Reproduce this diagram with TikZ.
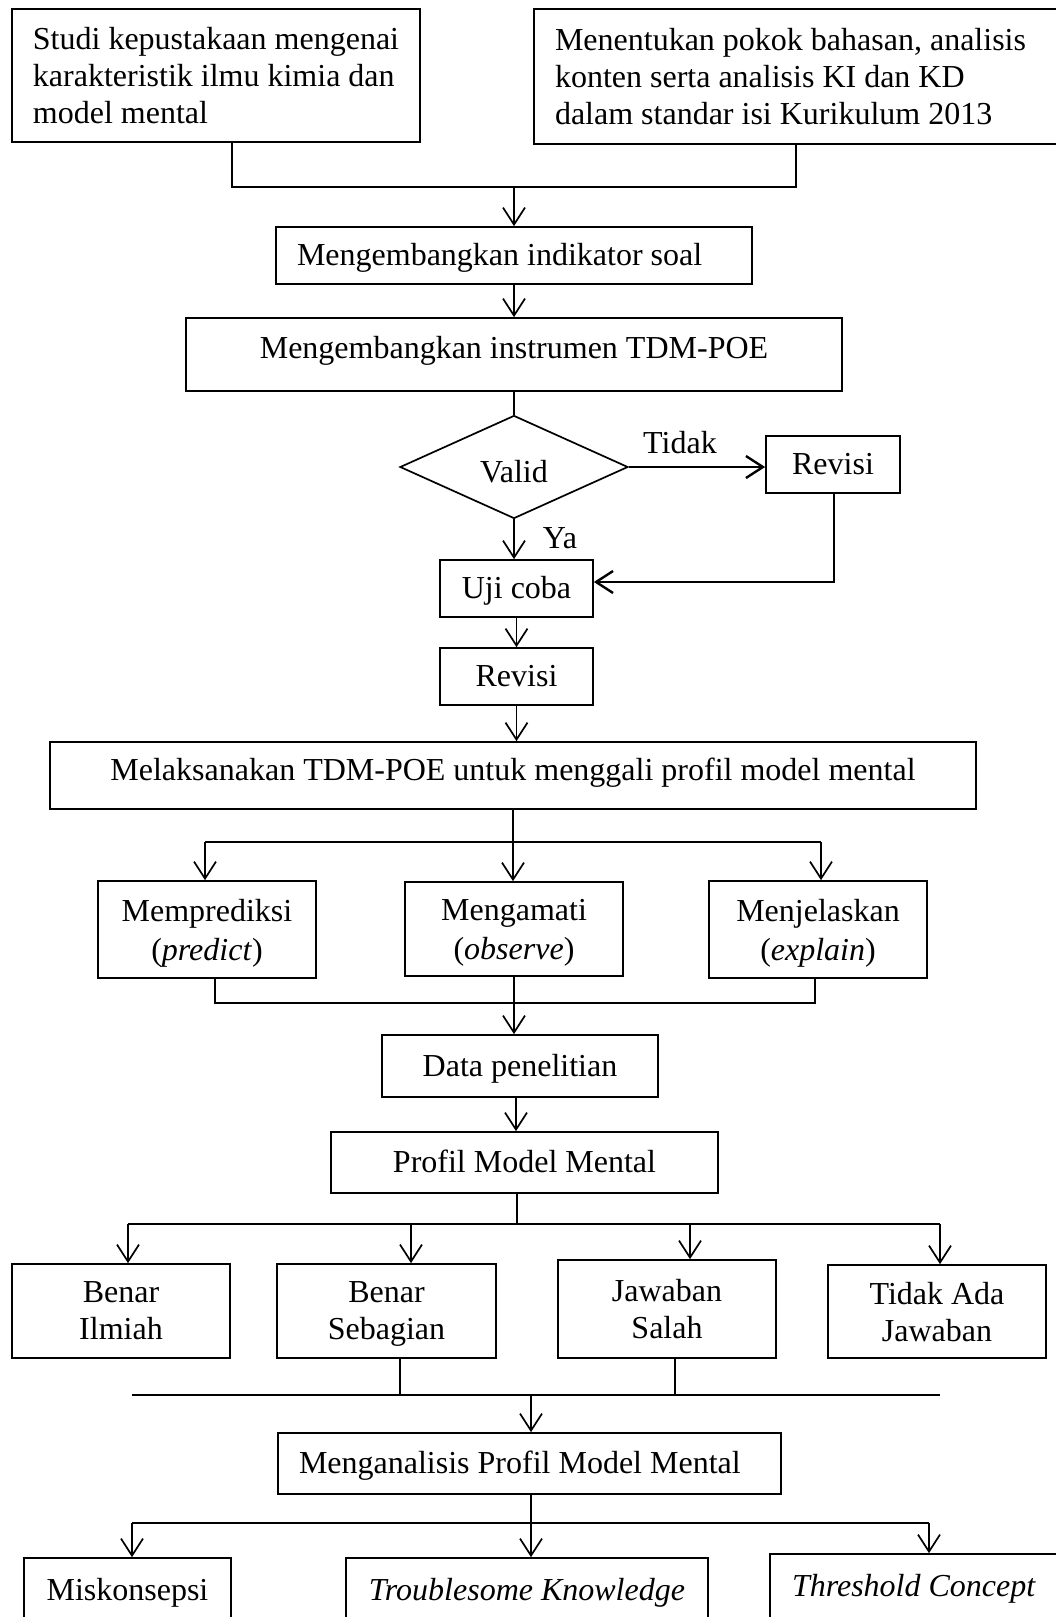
\documentclass[tikz,border=0pt]{standalone}
\usepackage{fontspec}
\setmainfont{Liberation Serif}
\usetikzlibrary{arrows.meta,shapes.geometric}
\begin{document}
\begin{tikzpicture}[x=1pt,y=-1pt,
  every node/.style={font=\fontsize{32}{37}\selectfont},
  box/.style={draw, line width=1.7pt, inner sep=0pt, align=center},
  one/.style={text height=21pt, text depth=1pt},
  arr/.style={-{Straight Barb[length=17pt,width=22pt,line width=1.7pt]}, line width=1.7pt},
  thk/.style={line width=2.6pt},
  thkarr/.style={-{Straight Barb[length=17pt,width=22pt,line width=2.4pt]}, line width=2.6pt},
  ln/.style={line width=1.7pt},
  thin/.style={line width=1.1pt}]
\useasboundingbox (0,0) rectangle (1056,1617);
\clip (0,0) rectangle (1056,1617);

% top boxes
\node[box, minimum width=408pt, minimum height=133pt, align=flush left] (b1) at (216,75.5)
  {Studi kepustakaan mengenai\\karakteristik ilmu kimia dan\\model mental};
\node[box, minimum width=536pt, minimum height=135pt, text width=494pt, align=flush left] (b2) at (802,76.5)
  {Menentukan pokok bahasan, analisis\\konten serta analisis KI dan KD\\dalam standar isi Kurikulum 2013};

\node[box, one, minimum width=476pt, minimum height=57pt, text width=434pt, align=flush left] (n1) at (514,255.5)
  {Mengembangkan indikator soal};
\node[box, text height=21pt, text depth=14pt, minimum width=656pt, minimum height=73pt] (n2) at (514,354.5)
  {Mengembangkan instrumen TDM-POE};

\node[draw, diamond, line width=1.7pt, inner sep=0pt, text height=31pt, text depth=0pt,
  minimum width=228pt, minimum height=103pt] (d) at (514,467) {Valid};
\node (t1) at (680,443) {Tidak};
\node[box, one, minimum width=134pt, minimum height=57pt] (rv1) at (833,464.5) {Revisi};
\node (ya) at (560,538) {Ya};

\node[box, one, minimum width=153pt, minimum height=57pt] (u) at (516.5,588.5) {Uji coba};
\node[box, one, minimum width=153pt, minimum height=57pt] (rv2) at (516.5,676.5) {Revisi};

\node[box, text height=21pt, text depth=12pt, minimum width=926pt, minimum height=67pt] (m) at (513,775.5)
  {Melaksanakan TDM-POE untuk menggali profil model mental};

\begin{scope}[every node/.append style={font=\fontsize{32}{39}\selectfont}]
\node[box, text depth=0pt, minimum width=218pt, minimum height=97pt] (p1) at (207,929.5) {Memprediksi\\(\textit{predict})};
\node[box, text depth=0pt, minimum width=218pt, minimum height=94pt] (p2) at (514,929) {Mengamati\\(\textit{observe})};
\node[box, text depth=0pt, minimum width=218pt, minimum height=97pt] (p3) at (818,929.5) {Menjelaskan\\(\textit{explain})};
\end{scope}

\node[box, one, minimum width=276pt, minimum height=62pt] (data) at (520,1066) {Data penelitian};
\node[box, one, minimum width=387pt, minimum height=61pt] (pm) at (524.5,1162.5) {Profil Model Mental};

\node[box, text depth=0pt, minimum width=218pt, minimum height=94pt] (r1) at (121,1311) {Benar\\Ilmiah};
\node[box, text depth=0pt, minimum width=219pt, minimum height=94pt] (r2) at (386.5,1311) {Benar\\Sebagian};
\node[box, text depth=0pt, minimum width=218pt, minimum height=98pt] (r3) at (667,1309) {Jawaban\\Salah};
\node[box, text depth=0pt, minimum width=218pt, minimum height=93pt] (r4) at (937,1311.5) {Tidak Ada\\Jawaban};

\node[box, one, minimum width=503pt, minimum height=61pt, text width=461pt, align=flush left] (an) at (529.5,1463.5)
  {Menganalisis Profil Model Mental};

\node[box, one, minimum width=207pt, minimum height=64pt] (q1) at (127.5,1590) {Miskonsepsi};
\node[box, one, minimum width=362pt, minimum height=64pt] (q2) at (527,1590) {\textit{Troublesome Knowledge}};
\node[box, one, minimum width=310pt, minimum height=64pt, text width=266pt, align=flush left] (q3) at (925,1586) {\textit{Threshold Concept}};

% connectors
\coordinate (j1) at (232,187); \coordinate (j2) at (796,187); \coordinate (jm) at (514,187);
\draw[ln] (j1 |- b1.south) -- (j1) -- (j2) -- (j2 |- b2.south);
\draw[arr] (jm) -- (jm |- n1.north);
\draw[arr] (n1.south) -- (n2.north);
\draw[ln] (n2.south) -- (d.north);
\draw[thkarr] (d.east) -- (d.east -| rv1.west);
\draw[arr] (d.south) -- (d.south |- u.north);
\coordinate (c1) at (834,582);
\draw[thkarr] (rv1.south -| c1) -- (c1) -- (c1 -| u.east);
\draw[arr] (u.south) -- (rv2.north);
\draw[arr] (rv2.south) -- (rv2.south |- m.north);

\coordinate (ba) at (205,842); \coordinate (bc) at (821,842);
\draw[arr] (m.south) -- (m.south |- p2.north);
\draw[ln] (ba) -- (bc);
\draw[arr] (ba) -- (ba |- p1.north);
\draw[arr] (bc) -- (bc |- p3.north);
\coordinate (ea) at (215,1003); \coordinate (ec) at (815,1003);
\draw[ln] (ea |- p1.south) -- (ea) -- (ec) -- (ec |- p3.south);
\draw[arr] (p2.south) -- (p2.south |- data.north);
\coordinate (dx) at (516,1097);
\draw[arr] (dx |- data.south) -- (dx |- pm.north);

\coordinate (g) at (517,1224);
\draw[thin] (g |- pm.south) -- (g);
\coordinate (g1) at (128,1224); \coordinate (g2) at (411,1224);
\coordinate (g3) at (690,1224); \coordinate (g4) at (940,1224);
\draw[ln] (g1) -- (g4);
\draw[arr] (g1) -- (g1 |- r1.north);
\draw[arr] (g2) -- (g2 |- r2.north);
\draw[arr] (g3) -- (g3 |- r3.north);
\draw[arr] (g4) -- (g4 |- r4.north);

\coordinate (h1) at (132,1395); \coordinate (h4) at (940,1395);
\coordinate (hb) at (400,1395); \coordinate (hc) at (675,1395); \coordinate (hm) at (531,1395);
\draw[ln] (h1) -- (h4);
\draw[thin] (hb |- r2.south) -- (hb);
\draw[thin] (hc |- r3.south) -- (hc);
\draw[arr] (hm) -- (hm |- an.north);

\coordinate (k) at (531,1523); \coordinate (k1) at (132,1523); \coordinate (k3) at (929,1523);
\draw[ln] (k |- an.south) -- (k);
\draw[ln] (k1) -- (k3);
\draw[arr] (k1) -- (k1 |- q1.north);
\draw[arr] (k) -- (k |- q2.north);
\draw[arr] (k3) -- (k3 |- q3.north);
\end{tikzpicture}
\end{document}
